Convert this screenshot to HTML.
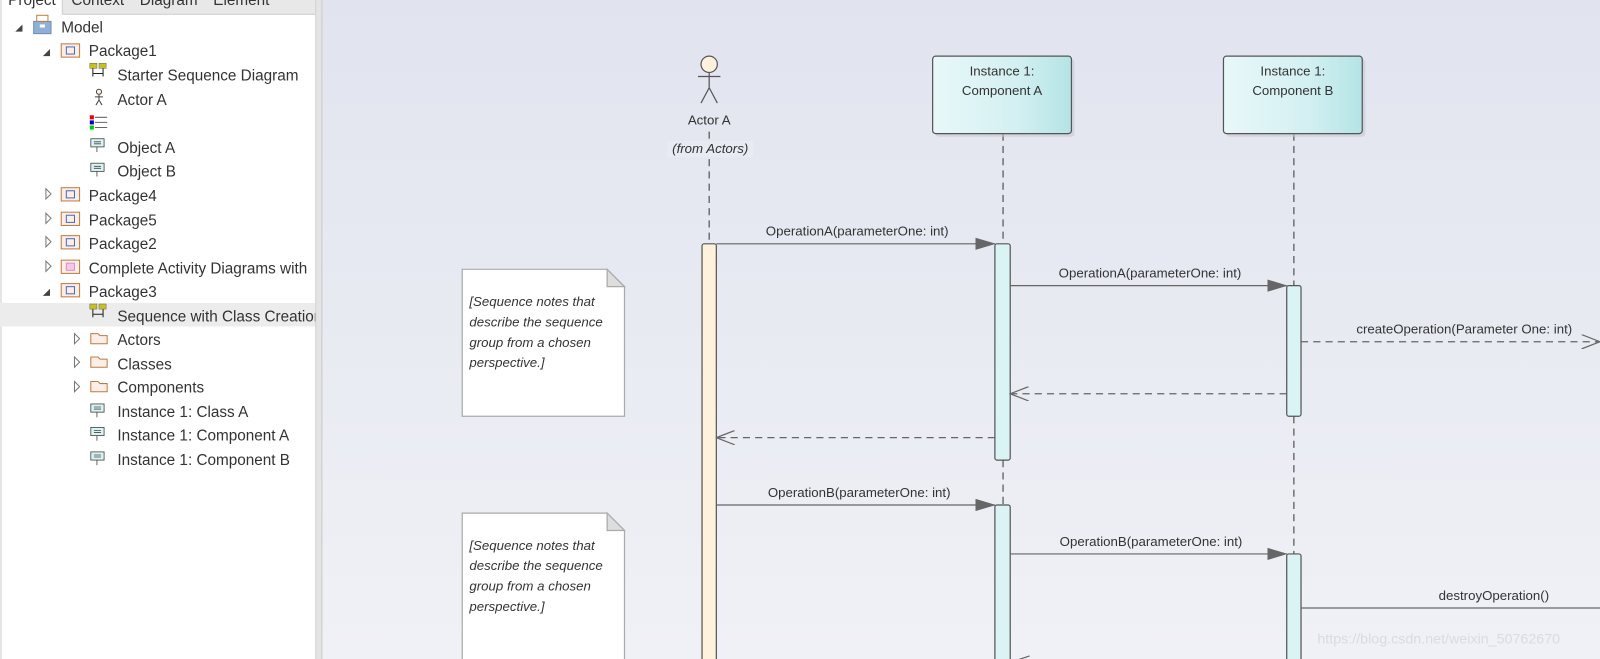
<!DOCTYPE html>
<html><head><meta charset="utf-8"><style>
html,body{margin:0;padding:0;width:1600px;height:659px;overflow:hidden;background:#fff}
svg{display:block}
text{font-family:"Liberation Sans",sans-serif;fill:#333}
.t{font-size:15px;fill:#333}
.d{font-size:13px;fill:#333}
.n{font-size:13px;font-style:italic;fill:#555}
</style></head><body>
<svg width="1600" height="659" viewBox="0 0 1568 646" preserveAspectRatio="none" xmlns="http://www.w3.org/2000/svg">
<defs>
<linearGradient id="bg" x1="0" y1="0" x2="0" y2="1"><stop offset="0" stop-color="#e1e4ef"/><stop offset="1" stop-color="#f0f1f6"/></linearGradient>
<linearGradient id="box" x1="0" y1="0" x2="1" y2="0"><stop offset="0" stop-color="#e8f8f9"/><stop offset="0.6" stop-color="#d4f0f2"/><stop offset="1" stop-color="#b4e4e6"/></linearGradient>
<marker id="fa" markerWidth="20" markerHeight="12" refX="19" refY="6" orient="auto" markerUnits="userSpaceOnUse"><path d="M0,0 L20,6 L0,12 z" fill="#666"/></marker>
<marker id="oa2" markerWidth="20" markerHeight="14" refX="19" refY="7" orient="auto" markerUnits="userSpaceOnUse"><path d="M1,0 L19,7 L1,14" fill="none" stroke="#666" stroke-width="1.2"/></marker>
</defs>
<rect x="0" y="0" width="309" height="646" fill="#fff"/>
<rect x="61" y="0" width="254" height="14" fill="#e8e8e8"/>
<line x1="61" y1="14" x2="309" y2="14" stroke="#ccc"/>
<line x1="61" y1="0" x2="61" y2="14" stroke="#ccc"/>
<line x1="1" y1="0" x2="1" y2="646" stroke="#ccc"/>
<text x="8" y="5" class="t">Project</text>
<text x="70" y="5" class="t" fill="#555">Context</text>
<text x="137" y="5" class="t">Diagram</text>
<text x="209" y="5" class="t">Element</text>
<rect x="0" y="297" width="309" height="23" fill="#ececec"/>
<g fill="#444"><path d="M15,31 L22,24 L22,31z"/><path d="M42,55 L49,48 L49,55z"/><path d="M42,290 L49,283 L49,290z"/></g>
<g fill="none" stroke="#777"><path d="M45,185 L50,190 L45,195z"/><path d="M45,209 L50,214 L45,219z"/><path d="M45,232 L50,237 L45,242z"/><path d="M45,256 L50,261 L45,266z"/><path d="M73,327 L78,332 L73,337z"/><path d="M73,350 L78,355 L73,360z"/><path d="M73,374 L78,379 L73,384z"/></g>
<rect x="33" y="21" width="17" height="12" fill="#8fb0d4" stroke="#6c8fb8"/><rect x="36" y="15" width="11" height="6" fill="none" stroke="#c08040"/><rect x="39" y="24" width="5" height="3" fill="#fff"/>
<g fill="#fbeee6" stroke="#c07a40">
<rect x="60" y="43" width="18" height="13"/><rect x="60" y="184" width="18" height="13"/><rect x="60" y="208" width="18" height="13"/><rect x="60" y="231" width="18" height="13"/><rect x="60" y="255" width="18" height="13"/><rect x="60" y="278" width="18" height="13"/></g>
<g fill="none" stroke="#4a6bc0"><rect x="65" y="46" width="8" height="7"/><rect x="65" y="187" width="8" height="7"/><rect x="65" y="211" width="8" height="7"/><rect x="65" y="234" width="8" height="7"/><rect x="65" y="281" width="8" height="7"/></g>
<rect x="65" y="258" width="8" height="7" fill="#f5c8e8" stroke="#e090c8"/>
<g><rect x="88" y="62" width="7" height="5" fill="#c8c020" stroke="#666" stroke-width=".5"/><rect x="97" y="62" width="7" height="5" fill="#c8c020" stroke="#666" stroke-width=".5"/><path d="M91,67 V75 M101,67 V75 M91,72 H101" stroke="#222" fill="none"/></g>
<g><rect x="88" y="298" width="7" height="5" fill="#c8c020" stroke="#666" stroke-width=".5"/><rect x="97" y="298" width="7" height="5" fill="#c8c020" stroke="#666" stroke-width=".5"/><path d="M91,303 V311 M101,303 V311 M91,308 H101" stroke="#222" fill="none"/></g>
<g stroke="#444" fill="none"><circle cx="97" cy="90" r="2.5" fill="#fff2dc"/><path d="M97,93 V98 M93,95 H101 M97,98 L94,103 M97,98 L100,103"/></g>
<rect x="88" y="113" width="4" height="4" fill="#e00"/><rect x="88" y="118" width="4" height="4" fill="#00d"/><rect x="88" y="123" width="4" height="4" fill="#0c0"/>
<path d="M93,115 H105 M93,120 H105 M93,125 H105" stroke="#666"/>
<g fill="#d8f4f4" stroke="#444" stroke-width=".8">
<rect x="89" y="136" width="13" height="8"/><rect x="89" y="160" width="13" height="8"/><rect x="89" y="396" width="13" height="8"/><rect x="89" y="419" width="13" height="8"/><rect x="89" y="443" width="13" height="8"/></g>
<g stroke="#444" stroke-width=".8"><path d="M92,139 H99 M92,141 H99 M95,144 V149"/><path d="M92,163 H99 M92,165 H99 M95,168 V173"/><path d="M92,399 H99 M92,401 H99 M95,404 V409"/><path d="M92,422 H99 M92,424 H99 M95,427 V432"/><path d="M92,446 H99 M92,448 H99 M95,451 V456"/></g>
<g fill="#fdeee8" stroke="#c07a40"><path d="M89,327 H96 L98,329 H105 V337 H89z"/><path d="M89,350 H96 L98,352 H105 V360 H89z"/><path d="M89,374 H96 L98,376 H105 V384 H89z"/></g>
<g class="t">
<text x="60" y="32">Model</text>
<text x="87" y="55">Package1</text>
<text x="115" y="79">Starter Sequence Diagram</text>
<text x="115" y="103">Actor A</text>
<text x="115" y="150">Object A</text>
<text x="115" y="173">Object B</text>
<text x="87" y="197">Package4</text>
<text x="87" y="221">Package5</text>
<text x="87" y="244">Package2</text>
<text x="87" y="268">Complete Activity Diagrams with</text>
<text x="87" y="291">Package3</text>
<text x="115" y="315">Sequence with Class Creation</text>
<text x="115" y="338">Actors</text>
<text x="115" y="362">Classes</text>
<text x="115" y="385">Components</text>
<text x="115" y="409">Instance 1: Class A</text>
<text x="115" y="432">Instance 1: Component A</text>
<text x="115" y="456">Instance 1: Component B</text>
</g>
<rect x="309" y="0" width="7" height="646" fill="#e4e4e4"/>
<line x1="309.5" y1="0" x2="309.5" y2="646" stroke="#d0d0d0"/>
<line x1="315.5" y1="0" x2="315.5" y2="646" stroke="#c8c8c8"/>
<rect x="316" y="0" width="1252" height="646" fill="url(#bg)"/>
<g stroke="#555" stroke-width="1.2" fill="none">
<circle cx="695" cy="63" r="8" fill="#fff2dc"/>
<path d="M695,71 V86 M684,75 H706 M695,86 L687,101 M695,86 L703,101"/>
</g>
<text x="695" y="122" class="d" text-anchor="middle">Actor A</text>
<rect x="654" y="138" width="84" height="16" fill="#e9ebf3"/>
<text x="696" y="150" class="d" text-anchor="middle" font-style="italic">(from Actors)</text>
<g stroke="#555" stroke-width="1.2" stroke-dasharray="7,5" fill="none">
<path d="M695,129 V137 M695,156 V239"/>
<path d="M983,131 V239 M983,451 V495"/>
<path d="M1268,131 V280 M1268,408 V543"/>
</g>
<rect x="917" y="58" width="136" height="76" rx="3" fill="#c8c8d0" opacity=".6"/>
<rect x="914" y="55" width="136" height="76" rx="3" fill="url(#box)" stroke="#555" stroke-width="1.2"/>
<text x="982" y="74" class="d" text-anchor="middle">Instance 1:</text>
<text x="982" y="93" class="d" text-anchor="middle">Component A</text>
<rect x="1202" y="58" width="136" height="76" rx="3" fill="#c8c8d0" opacity=".6"/>
<rect x="1199" y="55" width="136" height="76" rx="3" fill="url(#box)" stroke="#555" stroke-width="1.2"/>
<text x="1267" y="74" class="d" text-anchor="middle">Instance 1:</text>
<text x="1267" y="93" class="d" text-anchor="middle">Component B</text>
<g stroke="#555" stroke-width="1.2">
<rect x="688" y="239" width="14" height="420" rx="2" fill="#fff2dc"/>
<rect x="975" y="239" width="15" height="212" rx="2" fill="#daf3f4"/>
<rect x="975" y="495" width="15" height="170" rx="2" fill="#daf3f4"/>
<rect x="1261" y="280" width="14" height="128" rx="2" fill="#daf3f4"/>
<rect x="1261" y="543" width="14" height="120" rx="2" fill="#daf3f4"/>
</g>
<g stroke="#666" stroke-width="1.2" fill="none">
<line x1="702" y1="239" x2="975" y2="239" marker-end="url(#fa)"/>
<line x1="990" y1="280" x2="1261" y2="280" marker-end="url(#fa)"/>
<line x1="1275" y1="335" x2="1568" y2="335" stroke-dasharray="7,5" marker-end="url(#oa2)"/>
<line x1="1261" y1="386" x2="990" y2="386" stroke-dasharray="7,5" marker-end="url(#oa2)"/>
<line x1="975" y1="429" x2="702" y2="429" stroke-dasharray="7,5" marker-end="url(#oa2)"/>
<line x1="702" y1="495" x2="975" y2="495" marker-end="url(#fa)"/>
<line x1="990" y1="543" x2="1261" y2="543" marker-end="url(#fa)"/>
<line x1="1275" y1="596" x2="1568" y2="596"/>
<path d="M1009,643 L991,649"/>
</g>
<text x="840" y="231" class="d" text-anchor="middle">OperationA(parameterOne: int)</text>
<text x="1127" y="272" class="d" text-anchor="middle">OperationA(parameterOne: int)</text>
<text x="1435" y="327" class="d" text-anchor="middle">createOperation(Parameter One: int)</text>
<text x="842" y="487" class="d" text-anchor="middle">OperationB(parameterOne: int)</text>
<text x="1128" y="535" class="d" text-anchor="middle">OperationB(parameterOne: int)</text>
<text x="1464" y="588" class="d" text-anchor="middle">destroyOperation()</text>
<g stroke="#aaa" stroke-width="1.2">
<path d="M453,264 H595 L612,281 V408 H453z" fill="#fff"/>
<path d="M595,264 V281 H612z" fill="#ddd"/>
<path d="M453,503 H595 L612,520 V660 H453z" fill="#fff"/>
<path d="M595,503 V520 H612z" fill="#ddd"/>
</g>
<g class="n">
<text x="460" y="300">[Sequence notes that</text>
<text x="460" y="320">describe the sequence</text>
<text x="460" y="340">group from a chosen</text>
<text x="460" y="360">perspective.]</text>
<text x="460" y="539">[Sequence notes that</text>
<text x="460" y="559">describe the sequence</text>
<text x="460" y="579">group from a chosen</text>
<text x="460" y="599">perspective.]</text>
</g>
<text x="1291" y="631" font-size="14" style="fill:#d8dbe3">https://blog.csdn.net/weixin_50762670</text>
</svg>
</body></html>
